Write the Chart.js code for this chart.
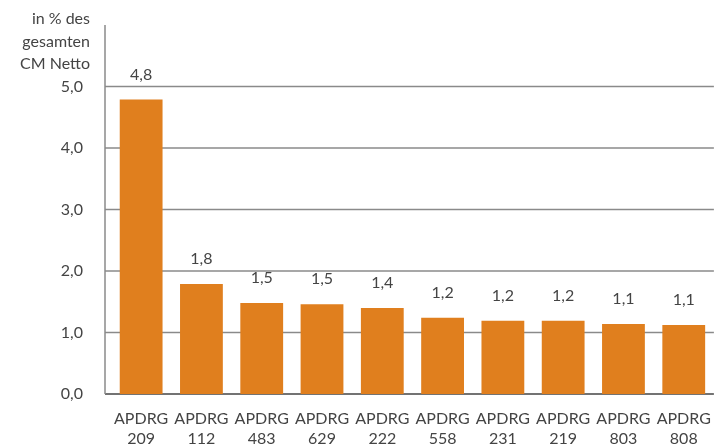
<!DOCTYPE html>
<html lang="de">

<head>
    <meta charset="UTF-8">
    <title>APDRG Anteil CM Netto</title>
    <script src="https://cdn.jsdelivr.net/npm/chart.js"></script>
    <style>
        html, body { margin: 0; padding: 0; background: #fff; }
    </style>
</head>

<body>
    <canvas id="chart" width="717" height="447"></canvas>

    <script>
        // Daten
        const categories = [
            ['APDRG', '209'], ['APDRG', '112'], ['APDRG', '483'], ['APDRG', '629'], ['APDRG', '222'],
            ['APDRG', '558'], ['APDRG', '231'], ['APDRG', '219'], ['APDRG', '803'], ['APDRG', '808']
        ];
        const values = [4.79, 1.79, 1.48, 1.46, 1.40, 1.24, 1.19, 1.19, 1.14, 1.12];
        const valueLabels = ['4,8', '1,8', '1,5', '1,5', '1,4', '1,2', '1,2', '1,2', '1,1', '1,1'];
        const yTicks = [0, 1, 2, 3, 4, 5];
        const yTitle = ['in % des', 'gesamten', 'CM Netto'];

        const fontFamily = 'Lato, "Open Sans", sans-serif';
        const textColor = '#444';
        const axisX = 105;

        // Achse und Gitterlinien (beginnen links vom Diagrammbereich)
        const axisPlugin = {
            id: 'axisLines',
            beforeDatasetsDraw(chart) {
                const ctx = chart.ctx;
                const y = chart.scales.y;
                const area = chart.chartArea;
                ctx.save();
                ctx.lineWidth = 1.5;
                yTicks.forEach(v => {
                    const py = y.getPixelForValue(v);
                    ctx.strokeStyle = v === 0 ? '#444' : '#8a8a8a';
                    ctx.beginPath();
                    ctx.moveTo(axisX, py);
                    ctx.lineTo(area.right, py);
                    ctx.stroke();
                });
                ctx.strokeStyle = '#8a8a8a';
                ctx.beginPath();
                ctx.moveTo(axisX, area.top);
                ctx.lineTo(axisX, y.getPixelForValue(0));
                ctx.stroke();
                ctx.restore();
            }
        };

        // Beschriftung über den Balken und Achsentitel
        const labelsPlugin = {
            id: 'labels',
            afterDatasetsDraw(chart) {
                const ctx = chart.ctx;
                const meta = chart.getDatasetMeta(0);
                ctx.save();
                ctx.font = '16px ' + fontFamily;
                ctx.fillStyle = textColor;
                ctx.textAlign = 'center';
                ctx.textBaseline = 'middle';
                meta.data.forEach((bar, i) => {
                    ctx.fillText(valueLabels[i], bar.x, bar.y - 25);
                });
                ctx.textAlign = 'right';
                ctx.textBaseline = 'middle';
                yTitle.forEach((line, i) => {
                    ctx.fillText(line, 90, 19 + i * 22.5);
                });
                ctx.restore();
            }
        };

        const ctx = document.getElementById('chart').getContext('2d');
        new Chart(ctx, {
            type: 'bar',
            data: {
                labels: categories,
                datasets: [{
                    data: values,
                    backgroundColor: '#e07f1e',
                    categoryPercentage: 1,
                    barPercentage: 0.71
                }]
            },
            options: {
                responsive: false,
                animation: false,
                layout: { padding: { top: 25, right: 3, left: 0, bottom: 0 } },
                plugins: {
                    legend: { display: false },
                    tooltip: { enabled: false }
                },
                scales: {
                    x: {
                        grid: { display: false },
                        border: { display: false },
                        ticks: {
                            color: textColor,
                            font: { family: fontFamily, size: 16, lineHeight: 1.3 },
                            padding: 6,
                            maxRotation: 0
                        },
                        afterFit(scale) { scale.height = 53; }
                    },
                    y: {
                        min: 0,
                        max: 6,
                        ticks: {
                            stepSize: 1,
                            color: textColor,
                            font: c => ({ family: fontFamily, size: c.tick && c.tick.value >= 6 ? 1 : 16 }),
                            padding: 20,
                            callback: v => v >= 6 ? '' : v.toFixed(1).replace('.', ',')
                        },
                        grid: { display: false },
                        border: { display: false },
                        afterFit(scale) { scale.width = 111; }
                    }
                }
            },
            plugins: [axisPlugin, labelsPlugin]
        });
    </script>
</body>

</html>
